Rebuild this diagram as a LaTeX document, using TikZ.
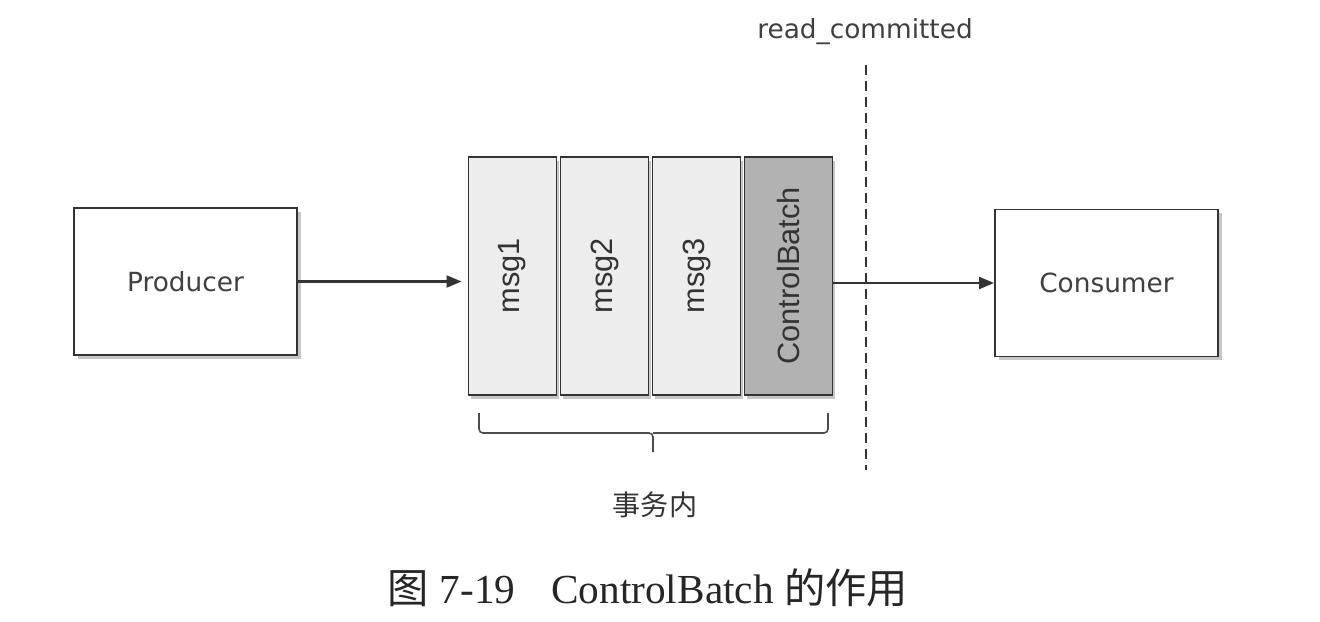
\documentclass[tikz,border=0pt]{standalone}
\usepackage{fontspec}
\setmainfont{Liberation Serif}
\newfontfamily\labelfont{DejaVu Sans}
\newfontfamily\msgfont{Liberation Sans}
\newfontfamily\cjk{Noto Sans CJK SC}
\usepackage{graphicx}
\usepackage{tikz}
\usetikzlibrary{arrows.meta, shadows, positioning}

\begin{document}
\begin{tikzpicture}
	\tikzstyle{actor}=[rectangle, draw=black!80, line width=1.1pt, fill=white, minimum width=4.46cm, minimum height=2.94cm, font=\labelfont\fontsize{15}{18}\selectfont, text=black!75, drop shadow={shadow xshift=0.07cm, shadow yshift=-0.07cm, opacity=0.45}]
	\tikzstyle{batch}=[rectangle, draw=black!80, line width=1.1pt, fill=black!7, minimum width=1.76cm, minimum height=4.76cm, font=\msgfont\fontsize{17.5}{20}\selectfont, text=black!80, drop shadow={shadow xshift=0.05cm, shadow yshift=-0.07cm, opacity=0.45}]
	\tikzstyle{flow}=[-{Triangle[length=0.3cm,width=0.24cm]}, line width=1.2pt, draw=black!80]
	\tikzstyle{brace}=[line width=0.9pt, draw=black!70, rounded corners=0.08cm]

	\useasboundingbox (0,0) rectangle (26.4,-12.44);

	% Producer and Consumer
	\node at (3.71,-5.63) [actor] (producer) {Producer};
	\node at (22.13,-5.66) [actor] (consumer) {Consumer};

	% Transaction batch
	\foreach \x in {1,...,3}
		\node at (10.25+1.84*\x-1.84, -5.52) [batch] (msg_\x) {\rotatebox{90}{msg\x}};
	\node at (15.77,-5.52) [batch, fill=black!30] (control) {\rotatebox{90}{ControlBatch}};

	% Arrows
	\draw [flow, shorten >=0.12cm] (producer.east) -- (producer.east -| msg_1.west);
	\draw [flow] (consumer.west -| control.east) -- (consumer.west);

	% read_committed
	\coordinate (rc_top) at (17.32,-1.3);
	\coordinate (rc_bottom) at (17.32,-9.4);
	\draw [line width=0.9pt, black!80, dash pattern=on 0.2cm off 0.12cm] (rc_top) -- (rc_bottom);
	\node at (17.3,-0.64) [font=\labelfont\fontsize{15}{18}\selectfont, text=black!75] (rc_label) {read\_committed};

	% Brace
	\coordinate (brace_l) at (9.58,-8.26);
	\coordinate (brace_r) at (16.56,-8.26);
	\draw [brace] (brace_l) -- ++(0,-0.4) -- ++(3.48,0) -- ++(0,-0.38) ++(0,0.38) -- ++(3.5,0) -- (brace_r);
	\node at (13.1,-10.1) [font=\cjk\fontsize{16}{18}\selectfont, text=black!80] (inside) {事务内};

	% Caption
	\node at (12.96,-11.76) [font=\fontsize{23.5}{26}\selectfont, text=black!85] (caption) {{\cjk 图} 7-19\hspace{0.72cm}ControlBatch {\cjk 的作用}};
\end{tikzpicture}
\end{document}
